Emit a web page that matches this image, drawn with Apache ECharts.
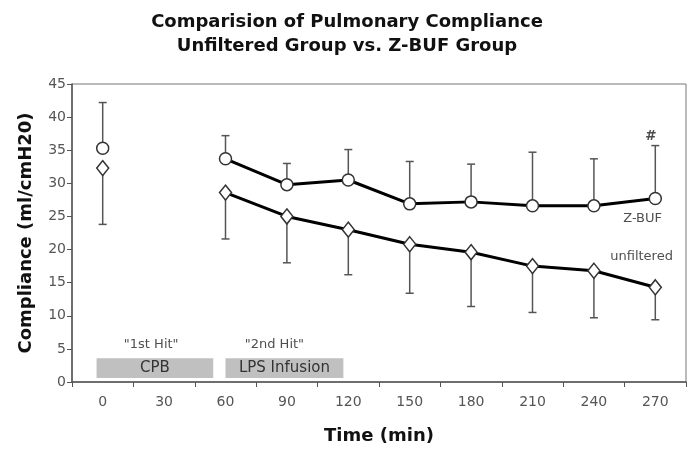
<!DOCTYPE html>
<html>
<head>
<meta charset="utf-8">
<script src="https://cdn.jsdelivr.net/npm/echarts@6/dist/echarts.min.js"></script>
<style>html,body{margin:0;padding:0;background:#fff}#c{width:694px;height:450px}</style>
</head>
<body>
<div id="c"></div>
<script>
var categories = ['0','30','60','90','120','150','180','210','240','270'];
var zbufMean  = [35.3, null, 33.7, 29.8, 30.5, 26.9, 27.2, 26.6, 26.6, 27.7];
var zbufUpper = [42.2, null, 37.2, 33.0, 35.1, 33.3, 32.9, 34.7, 33.7, 35.7];
var unfMean   = [32.3, null, 28.6, 25.0, 23.0, 20.8, 19.6, 17.5, 16.8, 14.3];
var unfLower  = [23.8, null, 21.6, 18.0, 16.2, 13.4, 11.4, 10.5, 9.7, 9.4];
var yTicks = [0,5,10,15,20,25,30,35,40,45];
// annotation boxes on a time scale: [start, end, bottom, top, label]
var boxes = [[-3, 54, 0.6, 3.6, 'CPB'], [60, 117.6, 0.6, 3.6, 'LPS Infusion']];
// text notes on a time scale: [time, value, text]
var notes = [[23.7, 5.7, '"1st Hit"'], [83.9, 5.7, '"2nd Hit"'], [267.4, 37.1, '#'], [263.8, 24.7, 'Z-BUF'], [263.3, 19.0, 'unfiltered']];

var font = 'DejaVu Sans';
var chart = echarts.init(document.getElementById('c'));

function errData(a, b) {
  var out = [];
  for (var i = 0; i < categories.length; i++) {
    if (a[i] != null && b[i] != null) out.push([i, a[i], b[i]]);
  }
  return out;
}
function errRender(params, api) {
  var x = api.value(0);
  var p1 = api.coord([x, api.value(1)]);
  var p2 = api.coord([x, api.value(2)]);
  var hw = 4;
  var st = {stroke: '#555', lineWidth: 1.5};
  return {type: 'group', children: [
    {type: 'line', shape: {x1: p1[0], y1: p1[1], x2: p2[0], y2: p2[1]}, style: st},
    {type: 'line', shape: {x1: p1[0]-hw, y1: p1[1], x2: p1[0]+hw, y2: p1[1]}, style: st},
    {type: 'line', shape: {x1: p2[0]-hw, y1: p2[1], x2: p2[0]+hw, y2: p2[1]}, style: st}
  ]};
}

chart.setOption({
  animation: false,
  backgroundColor: '#fff',
  title: {
    text: 'Comparision of Pulmonary Compliance\nUnfiltered Group vs. Z-BUF Group',
    left: 'center', top: 5,
    textStyle: {fontFamily: font, fontWeight: 'bold', fontSize: 18, color: '#111', lineHeight: 24}
  },
  grid: {left: 72, right: 8, top: 84, bottom: 67, show: true, borderColor: '#777', borderWidth: 1},
  xAxis: [{
    type: 'category', data: categories, boundaryGap: true,
    name: 'Time (min)', nameLocation: 'middle', nameGap: 45,
    nameTextStyle: {fontFamily: font, fontWeight: 'bold', fontSize: 18, color: '#111'},
    axisLine: {onZero: false, lineStyle: {color: '#555', width: 1.5}},
    axisTick: {show: true, length: 5, lineStyle: {color: '#555'}, alignWithLabel: false},
    axisLabel: {fontFamily: font, fontSize: 14, color: '#555', margin: 13},
    splitLine: {show: false}
  }, {
    type: 'value', min: -15, max: 285, show: false
  }],
  yAxis: {
    type: 'value', min: 0, max: 45, interval: 5,
    name: 'Compliance (ml/cmH20)', nameLocation: 'middle', nameGap: 37,
    nameTextStyle: {fontFamily: font, fontWeight: 'bold', fontSize: 18, color: '#111'},
    axisLine: {show: true, onZero: false, lineStyle: {color: '#555', width: 1.5}},
    axisTick: {show: true, length: 5, lineStyle: {color: '#555'}},
    axisLabel: {fontFamily: font, fontSize: 14, color: '#555', margin: 6,
      formatter: function (v) { return yTicks.indexOf(v) >= 0 ? String(v) : ''; }},
    splitLine: {show: false}
  },
  series: [
    {type: 'custom', name: 'zerr', xAxisIndex: 0, renderItem: errRender, data: errData(zbufMean, zbufUpper), z: 1, silent: true},
    {type: 'custom', name: 'uerr', xAxisIndex: 0, renderItem: errRender, data: errData(unfLower, unfMean), z: 1, silent: true},
    {type: 'line', name: 'Z-BUF', xAxisIndex: 0, data: zbufMean, connectNulls: false,
      lineStyle: {color: '#000', width: 3}, symbol: 'circle', symbolSize: 12, showAllSymbol: true,
      itemStyle: {color: '#fff', borderColor: '#333', borderWidth: 1.5}, z: 3},
    {type: 'line', name: 'unfiltered', xAxisIndex: 0, data: unfMean, connectNulls: false,
      lineStyle: {color: '#000', width: 3}, symbol: 'diamond', symbolSize: [12, 15], showAllSymbol: true,
      itemStyle: {color: '#fff', borderColor: '#333', borderWidth: 1.5}, z: 3},
    {type: 'custom', name: 'boxes', xAxisIndex: 1, silent: true, z: 2,
      data: boxes,
      renderItem: function (params, api) {
        var p1 = api.coord([api.value(0), api.value(3)]);
        var p2 = api.coord([api.value(1), api.value(2)]);
        return {type: 'rect', shape: {x: p1[0], y: p1[1], width: p2[0]-p1[0], height: p2[1]-p1[1]},
          style: {fill: '#c0c0c0'},
          textContent: {style: {text: boxes[params.dataIndex][4], fill: '#333',
            fontFamily: font, fontSize: 15}},
          textConfig: {position: 'inside'}};
      }},
    {type: 'scatter', name: 'notes', xAxisIndex: 1, silent: true, z: 4,
      data: notes.map(function (n) { return {value: [n[0], n[1]], label: {formatter: n[2],
        fontSize: n[2] === '#' ? 14 : 13, fontWeight: n[2] === '#' ? 'bold' : 'normal',
        fontStyle: n[2] === '#' ? 'italic' : 'normal'}}; }),
      symbolSize: 0,
      label: {show: true, position: 'inside', fontFamily: font, color: '#222'}}
  ]
});
</script>
</body>
</html>
